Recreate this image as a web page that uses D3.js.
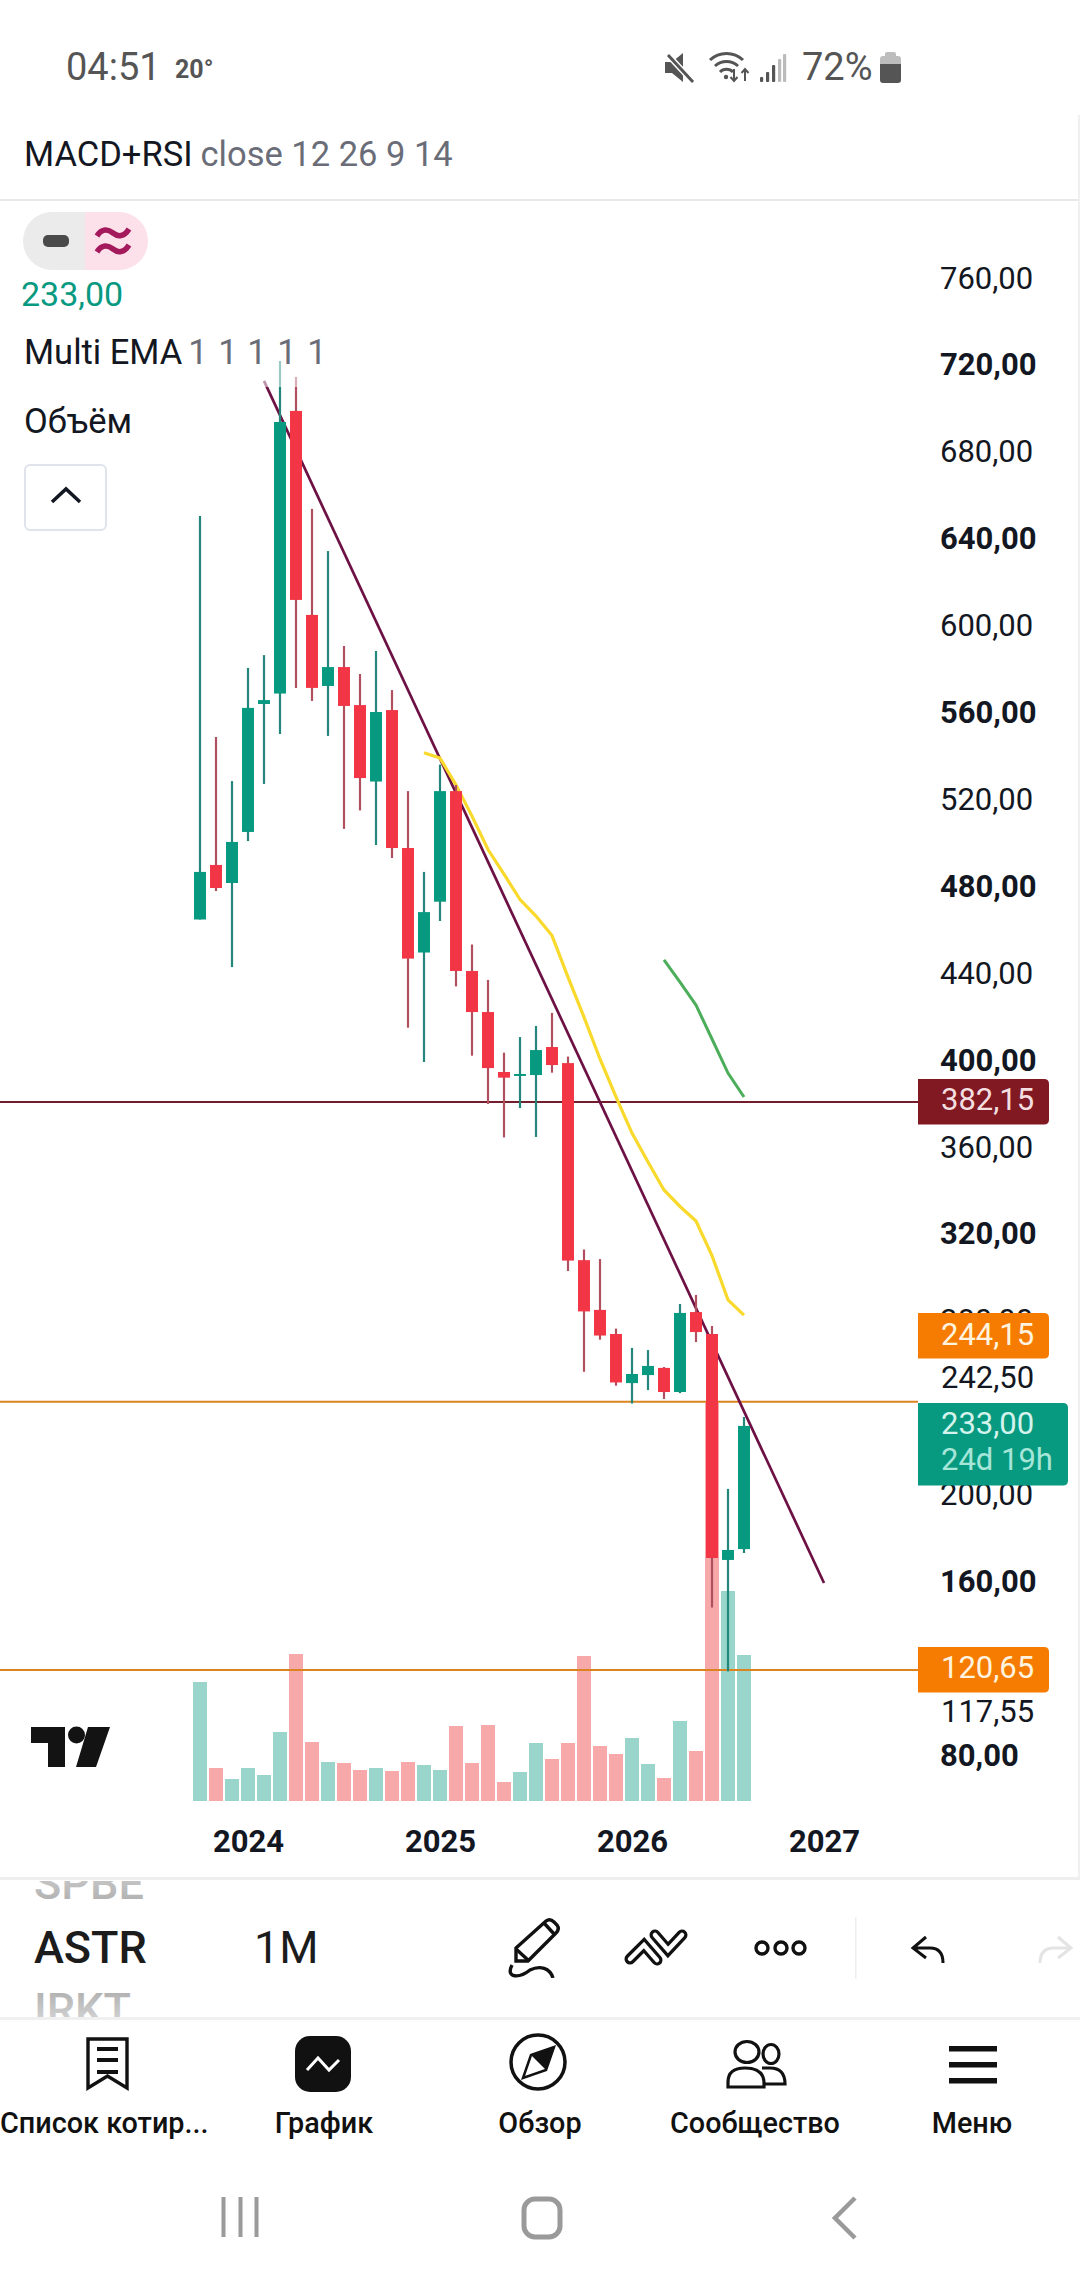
<!DOCTYPE html>
<html><head><meta charset="utf-8">
<style>
html,body{margin:0;padding:0;background:#fff}
svg{display:block}
text{font-family:Roboto,"Noto Sans",sans-serif}
.domain{display:none}
</style>
<script src="https://cdn.jsdelivr.net/npm/d3@7/dist/d3.min.js"></script>
</head><body><svg id="c" width="1080" height="2280" viewBox="0 0 1080 2280"></svg>
<script>
// ---------- data ----------
const monthLabels = ["2023-10","2023-11","2023-12","2024-01","2024-02","2024-03","2024-04","2024-05","2024-06","2024-07","2024-08","2024-09","2024-10","2024-11","2024-12","2025-01","2025-02","2025-03","2025-04","2025-05","2025-06","2025-07","2025-08","2025-09","2025-10","2025-11","2025-12","2026-01","2026-02","2026-03","2026-04","2026-05","2026-06","2026-07","2026-08","2026-09","2026-10","2026-11","2026-12","2027-01"];
const openVals  = [466.1,491.2,482.9,506.4,565.3,570.1,700.2,606.3,573.6,582.3,564.8,529.6,562.5,499,450.9,474.3,525.2,442.4,423.5,395.9,394.1,394.5,407.4,400,309.3,286.4,275.3,252.7,256.4,259.7,248.6,285.4,275.3,171.3,176.3];
const highVals  = [651.8,550.1,529.8,581.9,587.8,723.2,715.8,655.1,635.7,592,579.1,589.7,571.7,525.2,488,537.4,528,454.6,438.3,404.8,412,417.1,423.1,403,314.2,309.8,277.8,268.9,267.9,260.1,289.1,293.3,279,204,237.1];
const lowVals   = [466.1,479.2,444.2,502.2,528.5,551.5,572.7,566.7,550.6,507.8,516.3,500.4,494.4,416.3,400.5,465.4,435.3,403.4,381.2,365.8,379.3,366,395.6,304.3,257.9,272.7,251.5,243.3,249.5,245.4,248.1,271.6,149.4,120,174.5];
const closeVals = [488,480.6,501.8,563.5,567.1,695.1,613.2,572.7,582.3,564.4,531.2,561.6,499,448.1,469.5,525.2,442.4,423.5,397.7,393.3,395,406,399.1,309.1,285.7,274.6,253,256.9,260.6,248.6,285,276.2,172.2,175.9,233];
const volumeVals = [119,33,22,33,26,69,147,59,39,38,31,33,30,39,36,31,75,38,76,19,29,58,42,58,145,55,47,63,37,23,80,50,398,210,146];
const yellowEmaMonths = monthLabels.slice(14,35);
const yellowEmaVals = [542.9,540.4,528,513.7,498.3,487,475.3,467.7,458.7,439.6,421.2,401.9,384.4,367.8,354.5,341.6,334,327.3,311.4,291,284];
const greenEmaMonths = monthLabels.slice(29,35);
const greenEmaVals = [447.5,437.3,426.7,411.1,395.4,384.4];
const trendMonths = ["2024-02","2027-01"];
const trendVals = [714,160.7];
const priceTicks = [760,720,680,640,600,560,520,480,440,400,360,320,280,200,160,80];
const yearTicks = ["2024-01","2025-01","2026-01","2027-01"];
const priceLines = [382.15,244.15,120.65];

// ---------- scales ----------
const x = d3.scalePoint().domain(monthLabels).range([200,824]);
const y = d3.scaleLinear().domain([760,80]).range([281,1758.3]);
const yVol = d3.scaleLinear().domain([0,398]).range([1801,1403]);
const comma = v => d3.format(".2f")(v).replace(".",",");

const svg = d3.select("#c");
const GREEN="#089981", RED="#F23645", INK="#131722", GREY="#6a6d78";
svg.append("rect").attr("width",1080).attr("height",2280).attr("fill","#fff");
const defs = svg.append("defs");
defs.append("clipPath").attr("id","clipTop").append("rect").attr("x",0).attr("y",1881).attr("width",400).attr("height",40);
defs.append("clipPath").attr("id","clipBot").append("rect").attr("x",0).attr("y",1985).attr("width",400).attr("height",32);
defs.append("clipPath").attr("id","clipSq").append("rect").attr("x",500).attr("y",1900).attr("width",70).attr("height",78);
const fadeTop = defs.append("linearGradient").attr("id","fadeTop").attr("x1",0).attr("x2",0).attr("y1",0).attr("y2",1);
fadeTop.append("stop").attr("offset",0).attr("stop-color","#d8d8d8");
fadeTop.append("stop").attr("offset",1).attr("stop-color","#aaaaaa");
const fadeBot = defs.append("linearGradient").attr("id","fadeBot").attr("x1",0).attr("x2",0).attr("y1",0).attr("y2",1);
fadeBot.append("stop").attr("offset",0).attr("stop-color","#a8a8a8");
fadeBot.append("stop").attr("offset",1).attr("stop-color","#e4e4e4");

const T=(s,px,py,size,fill,weight,anchor)=>svg.append("text").attr("x",px).attr("y",py).attr("font-size",size).attr("fill",fill).attr("font-weight",weight||400).attr("text-anchor",anchor||"start").text(s);

// ---------- volume ----------
svg.append("g").selectAll("rect").data(volumeVals).join("rect")
  .attr("x",(d,i)=>x(monthLabels[i])-7).attr("width",14)
  .attr("y",d=>yVol(d)).attr("height",d=>yVol(0)-yVol(d))
  .attr("fill",(d,i)=>closeVals[i]>=openVals[i]?"#99d5cb":"#f7a9aa");

// ---------- horizontal lines ----------
svg.append("g").selectAll("line").data(priceLines).join("line")
  .attr("x1",0).attr("x2",918).attr("y1",d=>y(d)).attr("y2",d=>y(d))
  .attr("stroke",(d,i)=>i==0?"#741b2c":"#dc8420").attr("stroke-width",2);

// ---------- trend + EMAs ----------
const lineOf = d3.line().x(d=>x(d[0])).y(d=>y(d[1]));
svg.append("path").attr("d",lineOf(d3.zip(trendMonths,trendVals))).attr("fill","none").attr("stroke","#6d1145").attr("stroke-width",2.7);
svg.append("path").attr("d",lineOf(d3.zip(yellowEmaMonths,yellowEmaVals))).attr("fill","none").attr("stroke","#f8d92c").attr("stroke-width",3.2);
svg.append("path").attr("d",lineOf(d3.zip(greenEmaMonths,greenEmaVals))).attr("fill","none").attr("stroke","#4cae5a").attr("stroke-width",3);

// ---------- candles ----------
const candles = svg.append("g").selectAll("g").data(openVals).join("g");
candles.append("line")
  .attr("x1",(d,i)=>x(monthLabels[i])).attr("x2",(d,i)=>x(monthLabels[i]))
  .attr("y1",(d,i)=>y(highVals[i])).attr("y2",(d,i)=>y(lowVals[i]))
  .attr("stroke",(d,i)=>closeVals[i]>=openVals[i]?"#22877a":"#b04f60").attr("stroke-width",2.2);
candles.append("rect")
  .attr("x",(d,i)=>x(monthLabels[i])-6).attr("width",12)
  .attr("y",(d,i)=>y(Math.max(openVals[i],closeVals[i])))
  .attr("height",(d,i)=>Math.max(2,Math.abs(y(openVals[i])-y(closeVals[i]))))
  .attr("fill",(d,i)=>closeVals[i]>=openVals[i]?GREEN:RED);

// legend wash over the chart
svg.append("rect").attr("x",0).attr("y",340).attr("width",340).attr("height",47).attr("fill","#fff").attr("fill-opacity",.55);

// ---------- axes ----------
const pa = svg.append("g").attr("transform","translate(940,0)")
  .call(d3.axisRight(y).tickValues(priceTicks).tickSize(0).tickPadding(0).tickFormat(comma));
pa.selectAll("text").attr("dy","7px").attr("font-size",31).attr("fill",INK).attr("font-family","Roboto")
  .attr("font-weight",d=>d%80===0?700:400);
const ya = svg.append("g").attr("transform","translate(0,1852)")
  .call(d3.axisBottom(x).tickValues(yearTicks).tickSize(0).tickPadding(0).tickFormat(d=>d.slice(0,4)));
ya.selectAll("text").attr("dy",0).attr("font-size",31).attr("font-weight",700).attr("fill",INK).attr("font-family","Roboto");

// ---------- price tags ----------
function tag(py,h,w,fill){
  const r=5,x0=918,x1=918+w;
  svg.append("path").attr("fill",fill).attr("d",`M${x0} ${py}H${x1-r}Q${x1} ${py} ${x1} ${py+r}V${py+h-r}Q${x1} ${py+h} ${x1-r} ${py+h}H${x0}Z`);
}
tag(1079,45.5,131,"#801922"); T("382,15",941,1110,31,"#f4dfe0");
tag(1313,45.5,131,"#f57c00"); T("244,15",941,1345,31,"#fff3df");
T("242,50",941,1388,31,INK);
tag(1403,82.5,150,GREEN); T("233,00",941,1434,31,"#d3f3ec"); T("24d 19h",941,1470,31,"#a5e6d8");
tag(1647,45.5,131,"#f57c00"); T("120,65",941,1678,31,"#fff3df");
T("117,55",941,1722,31,INK);

// ---------- status bar ----------
const DK="#555";
T("04:51",66,80,38,DK);
T("20°",175,78,25,DK,700);
T("72%",802,80,38,DK);
svg.append("path").attr("d","M665 62h7l11-9v29l-11-9h-7z").attr("fill",DK);
svg.append("path").attr("d","M668 55L693 82").attr("stroke","#fff").attr("stroke-width",6);
svg.append("path").attr("d","M668 55L693 82").attr("stroke",DK).attr("stroke-width",3);
["M710 60A24 24 0 0 1 743 60","M715 66A17 17 0 0 1 738 66","M720 72A9 9 0 0 1 733 72"].forEach(a=>svg.append("path").attr("d",a).attr("fill","none").attr("stroke",DK).attr("stroke-width",3));
svg.append("circle").attr("cx",726).attr("cy",77).attr("r",2.2).attr("fill",DK);
svg.append("path").attr("d","M734 69v12m-3.500-4l3.500 4l3.500-4M745 81v-12m-3.500 4l3.500-4l3.500 4").attr("fill","none").attr("stroke",DK).attr("stroke-width",2);
[[760,77,DK],[766,72,DK],[772,65,DK],[778,59,"#bbb"],[783,54,"#bbb"]].forEach(b=>svg.append("rect").attr("x",b[0]).attr("y",b[1]).attr("width",3.2).attr("height",82-b[1]).attr("rx",1).attr("fill",b[2]));
svg.append("path").attr("d","M885 56v-2a2 2 0 0 1 2-2h7a2 2 0 0 1 2 2v2h2a3 3 0 0 1 3 3v5h-21v-5a3 3 0 0 1 3-3z").attr("fill","#bdbdbd");
svg.append("path").attr("d","M880 64h21v16a3 3 0 0 1-3 3h-15a3 3 0 0 1-3-3z").attr("fill",DK);

// ---------- header ----------
const hdr=T("MACD+RSI",24,166,34.5,INK);
hdr.append("tspan").attr("fill",GREY).attr("dx",8).text("close 12 26 9 14");
svg.append("rect").attr("x",0).attr("y",199).attr("width",1080).attr("height",2).attr("fill","#e8e8e8");
svg.append("rect").attr("x",1078).attr("y",115).attr("width",2).attr("height",1765).attr("fill","#f0f0f0");

// ---------- legend ----------
svg.append("path").attr("d","M85 212H52A29 29 0 0 0 52 270H85Z").attr("fill","#ebebeb");
svg.append("path").attr("d","M85 212H119A29 29 0 0 1 119 270H85Z").attr("fill","#fce0ea");
svg.append("rect").attr("x",43).attr("y",235).attr("width",26).attr("height",12).attr("rx",5).attr("fill","#4a4a4a");
svg.append("path").attr("d","M97 236C102 228 108 229 113 233C118 237 124 237 129 229M97 252C102 244 108 245 113 249C118 253 124 253 129 245").attr("fill","none").attr("stroke","#a3195b").attr("stroke-width",5.5);
T("233,00",21,306,34,GREEN);
T("Multi EMA",24,364,34.5,INK);
[198,228,257,287,317].forEach(px=>T("1",px,364,34.5,GREY,400,"middle"));
T("Объём",24,433,34.5,INK);
svg.append("rect").attr("x",25).attr("y",465).attr("width",81).attr("height",65).attr("rx",5).attr("fill","#fff").attr("stroke","#e0e3eb").attr("stroke-width",2);
svg.append("path").attr("d","M52 502L66 489L80 502").attr("fill","none").attr("stroke",INK).attr("stroke-width",3.5);

// ---------- TV logo ----------
svg.append("path").attr("d","M31 1727H65V1767H48V1743H31ZM88 1727H110L96 1767H76Z").attr("fill","#131313");
svg.append("ellipse").attr("cx",76.5).attr("cy",1735).attr("rx",8.5).attr("ry",8.5).attr("fill","#131313");

// ---------- bottom bar ----------
svg.append("rect").attr("x",0).attr("y",1877).attr("width",1080).attr("height",3).attr("fill","#eeeeee");
T("SPBE",34,1899,45,"url(#fadeTop)",500).attr("clip-path","url(#clipTop)");
T("ASTR",34,1963,45,"#1c1c1c",500);
T("1M",254,1963,45,"#1c1c1c");
T("IRKT",34,2025,45,"url(#fadeBot)",500).attr("clip-path","url(#clipBot)");
svg.append("rect").attr("x",0).attr("y",2017).attr("width",1080).attr("height",3).attr("fill","#f0f0f0");
const S=(d,w)=>svg.append("path").attr("d",d).attr("fill","none").attr("stroke","#111").attr("stroke-width",w||3.4);
S("M516 1961V1948L546 1921Q550 1918 554 1922L557 1925Q560 1929 556 1933L528 1961Z");
S("M516 1949L528 1960M544 1923L555 1935");
S("M512 1965C505 1979 520 1978 530 1970C540 1965 550 1968 553 1978").attr("clip-path","url(#clipSq)");
["M630 1959L644 1945L657 1960","M655 1935L668 1950L682 1935"].forEach(a=>{
  svg.append("path").attr("d",a).attr("fill","none").attr("stroke","#111").attr("stroke-width",11).attr("stroke-linecap","round");
  svg.append("path").attr("d",a).attr("fill","none").attr("stroke","#fff").attr("stroke-width",4.5).attr("stroke-linecap","round");
});
[762,781,799].forEach(c=>svg.append("circle").attr("cx",c).attr("cy",1948).attr("r",6).attr("fill","none").attr("stroke","#111").attr("stroke-width",3.4));
svg.append("rect").attr("x",855).attr("y",1917).attr("width",1.5).attr("height",62).attr("fill","#eee");
S("M926 1937L913 1948L926 1958M913 1948H930Q943 1948 943 1963",3);
svg.append("path").attr("d","M1058 1937L1071 1948L1058 1958M1071 1948H1054Q1040 1948 1040 1963").attr("fill","none").attr("stroke","#e4e4e4").attr("stroke-width",3);

// nav icons
S("M88 2039H127V2088L107.500 2076L88 2088Z");
[2049,2060,2072].forEach(v=>svg.append("rect").attr("x",97).attr("y",v-2).attr("width",21).attr("height",4).attr("fill","#111"));
svg.append("rect").attr("x",295).attr("y",2036).attr("width",56).attr("height",56).attr("rx",15).attr("fill","#111");
svg.append("path").attr("d","M307 2070L318 2058L329 2070L339 2060").attr("fill","none").attr("stroke","#fff").attr("stroke-width",3);
svg.append("circle").attr("cx",538).attr("cy",2062).attr("r",27).attr("fill","none").attr("stroke","#111").attr("stroke-width",3.5);
S("M554 2047L546 2070L523 2078L531 2055Z",2.5);
svg.append("path").attr("d","M554 2047L546 2070L531 2055Z").attr("fill","#111");
svg.append("ellipse").attr("cx",747).attr("cy",2052).attr("rx",12).attr("ry",10.5).attr("fill","none").attr("stroke","#111").attr("stroke-width",3.2);
svg.append("ellipse").attr("cx",771).attr("cy",2054).attr("rx",8).attr("ry",9.5).attr("fill","none").attr("stroke","#111").attr("stroke-width",3.2);
S("M762 2068H770Q785 2068 785 2084H764",3.2);
S("M728 2087V2082Q728 2068 745 2068Q763 2068 764 2082V2087Z",3.2);
[2046,2062,2078].forEach(v=>svg.append("rect").attr("x",949).attr("y",v).attr("width",48).attr("height",5.5).attr("fill","#111"));
const navFont=28.8;
T("Список котир...",0,2133,navFont,"#111",500);
T("График",324,2133,navFont,"#111",500,"middle");
T("Обзор",540,2133,navFont,"#111",500,"middle");
T("Сообщество",755,2133,navFont,"#111",500,"middle");
T("Меню",972,2133,navFont,"#111",500,"middle");

// android nav
[223,240,256].forEach(v=>svg.append("rect").attr("x",v-1.5).attr("y",2197).attr("width",4).attr("height",40).attr("fill","#9a9a9a"));
svg.append("rect").attr("x",524).attr("y",2199).attr("width",36).attr("height",38).attr("rx",11).attr("fill","none").attr("stroke","#9a9a9a").attr("stroke-width",5);
svg.append("path").attr("d","M855 2198L835 2218L855 2238").attr("fill","none").attr("stroke","#9a9a9a").attr("stroke-width",4.5);
</script></body></html>
